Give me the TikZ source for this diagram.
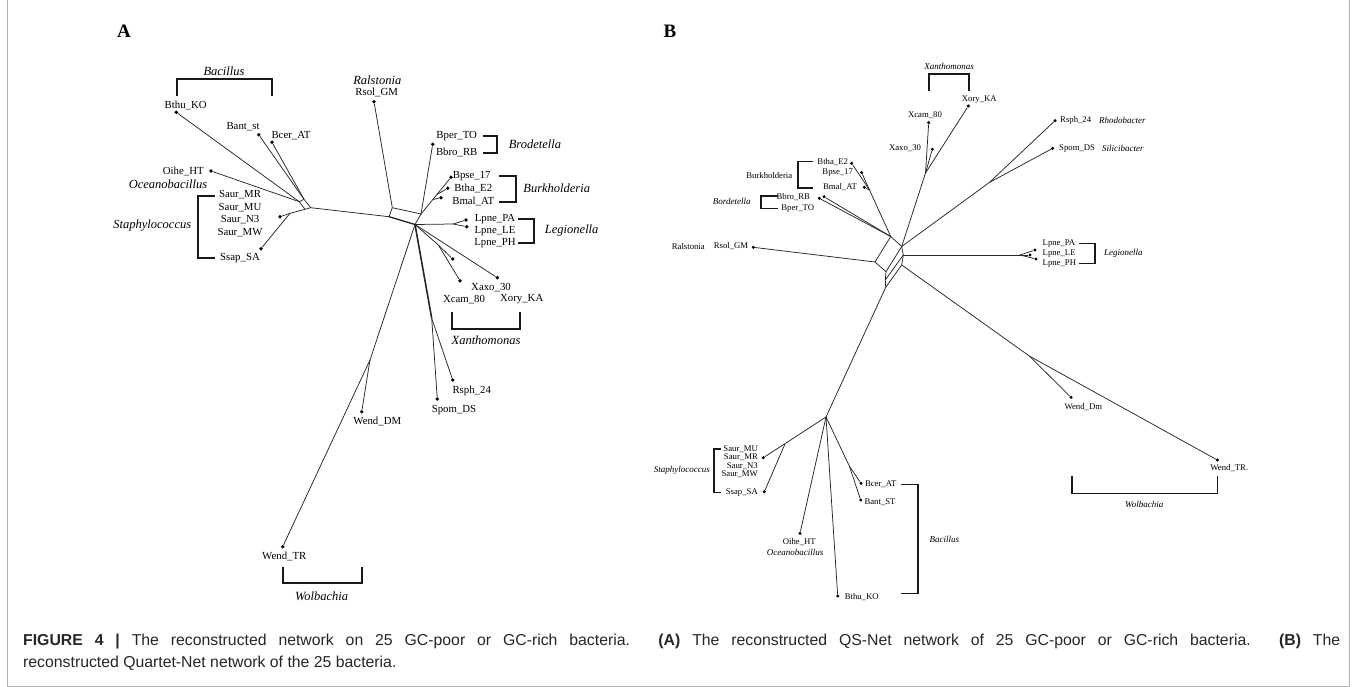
\documentclass[tikz,border=0pt]{standalone}
\usepackage{fontspec}
\setmainfont{Liberation Serif}
\newfontfamily\capfont{Liberation Sans}
\usepackage{tikz}

\tikzset{
  br/.style={line width=0.75pt, black!85},
  brk/.style={line width=1.8pt, black!90},
  leaf/.style={circle, fill=black, inner sep=0pt, minimum size=3.8pt},
  tagA/.style={font=\fontsize{10.8}{12}\selectfont},
  tagB/.style={font=\fontsize{8.7}{10}\selectfont},
  genA/.style={font=\fontsize{12.5}{14}\selectfont\itshape},
  genB/.style={font=\fontsize{9}{11}\selectfont\itshape},
  capline/.style={anchor=base west, font=\capfont\fontsize{15.8}{18}\selectfont, text=black!85}
}

\begin{document}
\begin{tikzpicture}[x=1pt, y=-1pt, inner sep=0pt]
  \useasboundingbox (0,0) rectangle (1356,687);
  \draw[gray!60, line width=0.8pt] (7,0) -- (7,686) -- (1349,686) -- (1349,0);

  \node[font=\fontsize{19}{20}\selectfont\bfseries] (panA) at (124,31) {A};
  \node[font=\fontsize{19}{20}\selectfont\bfseries] (panB) at (670,31) {B};

  % panel A
  \foreach \n/\x/\y in {hA1/299.3/201.7, hA2/304/199.3, hA3/310.7/207.7, hA4/305/209.3,
      sA/290/213.3, pA1/389/216.7, pA2/392.3/207.7, pA3/421/214, pA4/415/224.5,
      kA1/437/194.5, kA2/433/199.5, lA/453.3/224, xkA/438.3/245, rkA/431.7/318.3, wkA/370/360}
    \coordinate (\n) at (\x,\y);
  \foreach \n/\x/\y in {bthuA/176.3/112.3, bantA/258.7/134.7, bcerA/272/142.3, oiheA/211/171,
      saurA/280/216.7, ssapA/261/248.7, rsolA/374/101.7, bbroA/432.7/144.3,
      bpseA/451/177.3, bthaA/447.7/188.3, bmalA/441/197.7, lpA1/466/220, lpA2/466.7/226.7,
      x1A/452.7/259, x2A/460/280.7, xoA/497.3/277.7, rsphA/452.7/380, spomA/437.3/399,
      wdmA/361.7/411.7, wtrA/282.7/546.7}
    \node[leaf] (\n) at (\x,\y) {};
  \foreach \a/\b in {bthuA/hA1, oiheA/hA1, bantA/hA2, bcerA/hA2, hA1/hA2, hA2/hA3, hA3/hA4,
      hA4/hA1, saurA/sA, ssapA/sA, sA/hA4, hA3/pA1, pA1/pA2, pA2/pA3, pA3/pA4,
      rsolA/pA2, bbroA/pA3, pA3/bpseA, kA1/bthaA, kA2/bmalA, pA4/lA, lA/lpA1, lA/lpA2,
      pA4/xoA, pA4/xkA, xkA/x1A, xkA/x2A, rkA/rsphA, rkA/spomA, pA4/wkA, wkA/wtrA, wkA/wdmA}
    \draw[br] (\a) -- (\b);
  \draw[br, line width=1.3pt] (pA4) -- (pA1);
  \draw[br, line width=1.6pt] (pA4) -- (rkA);

  \foreach \n/\x/\y/\t in {tbthuA/185.7/105/Bthu\_KO, tbantA/243/127/Bant\_st,
      tbcerA/291/135.7/Bcer\_AT, toiheA/183.3/171/Oihe\_HT, trsolA/376.7/92.3/Rsol\_GM,
      tbperA/456.7/136/Bper\_TO, tbbroA/456.7/152.7/Bbro\_RB, tbpseA/471.7/175.7/Bpse\_17,
      tbthaA/473.3/188.3/Btha\_E2, tbmalA/473.3/201.7/Bmal\_AT, tlpaA/495/218.7/Lpne\_PA,
      tlleA/495/230.7/Lpne\_LE, tlphA/495/242.7/Lpne\_PH, txaxoA/491/287.7/Xaxo\_30,
      txcamA/464/299.3/Xcam\_80, txoryA/521.7/299.3/Xory\_KA, trsphA/471.7/391/Rsph\_24,
      tspomA/454/410/Spom\_DS, twdmA/377.3/421.7/Wend\_DM, twtrA/284.3/556.7/Wend\_TR}
    \node[tagA] (\n) at (\x,\y) {\t};
  \foreach \n/\y/\t in {tsmrA/194.3/Saur\_MR, tsmuA/207.3/Saur\_MU, tsn3A/220/Saur\_N3,
      tsmwA/232.3/Saur\_MW, tssaA/258/Ssap\_SA}
    \node[tagA] (\n) at (240,\y) {\t};
  \foreach \n/\x/\y/\t in {gbacA/224/71/Bacillus, gralA/377.3/80/Ralstonia,
      goceA/168/184/Oceanobacillus, gstaA/152.3/226/Staphylococcus, gbroA/535/144.3/Brodetella,
      gburA/556.7/188.3/Burkholderia, glegA/571.7/230.7/Legionella,
      gxanA/486/340/Xanthomonas, gwolA/321.7/596/Wolbachia}
    \node[genA] (\n) at (\x,\y) {\t};

  \draw[brk] (176.7,96) -- (176.7,79) -- (272,79) -- (272,96);
  \draw[brk] (215,196) -- (198.3,196) -- (198.3,257.7) -- (215,257.7);
  \draw[brk] (482.7,136) -- (496.7,136) -- (496.7,152.7) -- (482.7,152.7);
  \draw[brk] (499.3,175.7) -- (515.7,175.7) -- (515.7,201.7) -- (499.3,201.7);
  \draw[brk] (518.3,218.7) -- (534.3,218.7) -- (534.3,242.7) -- (518.3,242.7);
  \draw[brk] (451.7,311.7) -- (451.7,329) -- (520,329) -- (520,311.7);
  \draw[brk] (282.7,567.3) -- (282.7,583.3) -- (361.7,583.3) -- (361.7,567.3);

  % panel B
  \foreach \n/\x/\y in {qA/890.7/236.5, qB/901.7/246.5, qD/875/262, qC/886/271.7,
      qE/903.3/255, qF/901.7/265, qH/885.3/280, qG/885.7/287.3, jB/925.5/173,
      kB/989.3/182.5, bkB/869.5/190, lB/1020/255, wkB/1029.3/356, lL/826/417,
      sB/785/444, bcB/849.3/466}
    \coordinate (\n) at (\x,\y);
  \foreach \n/\x/\y in {xoryB/968.3/106, xcamB/928.7/122.7, xaxoB/932.3/149.3,
      rsphB/1055/120.7, spomB/1052.7/148.3, bthaB/851.7/163.3, bpseB/861.7/172.7,
      bmalB/864.3/187.3, bbroB/824/196.7, bperB/819.3/198.3, rsolB/753.3/247.3,
      lpB1/1035/250, lpB2/1030/255, lpB3/1036/259, wdmB/1071/397.3, wtrB/1217.3/460,
      saurB/763.3/457.7, ssapB/764.3/491.7, oiheB/800/533.3, bthuB/837.7/596,
      bcerB/861/483.3, bantB/860.7/500}
    \node[leaf, minimum size=3.4pt] (\n) at (\x,\y) {};
  \foreach \a/\b in {qA/qB, qA/qD, qD/qC, qB/qC, qB/qE, qE/qF, qC/qH, qH/qG, qE/qH, qF/qG,
      jB/xoryB, jB/xcamB, jB/xaxoB, jB/qB, qB/kB, kB/rsphB, kB/spomB, qA/bkB,
      bkB/bthaB, bkB/bpseB, bkB/bmalB, qA/bbroB, qA/bperB, rsolB/qD, qE/lB, lB/lpB1,
      lB/lpB2, lB/lpB3, qF/wkB, wkB/wtrB, wkB/wdmB, qG/lL, lL/saurB, sB/ssapB,
      lL/oiheB, lL/bthuB, lL/bcB, bcB/bcerB, bcB/bantB}
    \draw[br] (\a) -- (\b);

  \foreach \n/\x/\y/\t in {txoryB/979.3/99.3/Xory\_KA, txcamB/925/115/Xcam\_80,
      txaxoB/905/148.3/Xaxo\_30, tbthaB/832.7/162.3/Btha\_E2, tbpseB/837.7/172.3/Bpse\_17,
      tbmalB/840/187.3/Bmal\_AT, tbbroB/793.3/196.7/Bbro\_RB, tbperB/797.7/208.3/Bper\_TO,
      trsolB/731/246/Rsol\_GM, tburB/769.3/175.7/Burkholderia, tralB/688.3/246.7/Ralstonia,
      twdmB/1083.3/407.3/Wend\_Dm, twtrB/1229.3/468.3/Wend\_TR., tbcerB/880.7/484.3/Bcer\_AT,
      tbantB/880/501.7/Bant\_ST, toiheB/799.3/541.7/Oihe\_HT, tbthuB/861.7/596.7/Bthu\_KO}
    \node[tagB] (\n) at (\x,\y) {\t};
  \foreach \n/\y/\t in {tlpaB/243.3/Lpne\_PA, tlleB/253.3/Lpne\_LE, tlphB/263.3/Lpne\_PH}
    \node[tagB, anchor=west] (\n) at (1042.5,\y) {\t};
  \node[tagB, anchor=west] (trsphB) at (1060,120.7) {Rsph\_24};
  \node[tagB, anchor=west] (tspomB) at (1059,148.3) {Spom\_DS};
  \foreach \n/\y/\t in {tsmuB/449/Saur\_MU, tsmrB/457.3/Saur\_MR, tsn3B/466/Saur\_N3,
      tsmwB/474/Saur\_MW, tssaB/492.3/Ssap\_SA}
    \node[tagB, anchor=east] (\n) at (758,\y) {\t};
  \foreach \n/\x/\y/\t in {gxanB/949/66.7/Xanthomonas, gborB/731.7/201.7/Bordetella,
      gwolB/1144.3/504/Wolbachia, gbacB/944.3/539.3/Bacillus, goceB/795/552.7/Oceanobacillus}
    \node[genB] (\n) at (\x,\y) {\t};
  \node[genB, anchor=west] (grhoB) at (1099,120.7) {Rhodobacter};
  \node[genB, anchor=west] (gsilB) at (1102,148.3) {Silicibacter};
  \node[genB, anchor=west] (glegB) at (1104,253.3) {Legionella};
  \node[genB, anchor=east] (gstaB) at (710,470.5) {Staphylococcus};

  \draw[brk, line width=1.6pt] (928.7,90.7) -- (928.7,74) -- (968.7,74) -- (968.7,90.7);
  \draw[brk, line width=1.6pt] (813.3,161.7) -- (797.7,161.7) -- (797.7,188.3) -- (813.3,188.3);
  \draw[brk, line width=1.6pt] (777.7,196) -- (761,196) -- (761,208.3) -- (777.7,208.3);
  \draw[brk, line width=1.6pt] (1079.3,243.3) -- (1095,243.3) -- (1095,263.3) -- (1079.3,263.3);
  \draw[brk, line width=1.6pt] (1071.7,476) -- (1071.7,493.3) -- (1217.3,493.3) -- (1217.3,476);
  \draw[brk, line width=1.6pt] (901,484.3) -- (917.7,484.3) -- (917.7,593.3) -- (901,593.3);
  \draw[brk, line width=1.6pt] (721,449) -- (714,449) -- (714,492.3) -- (721,492.3);

  % caption
  \node[capline] (cap1) at (23,645.5)
    {\makebox[1317pt][s]{\textbf{FIGURE 4 |} The reconstructed network on 25 GC-poor or GC-rich bacteria. \textbf{(A)} The reconstructed QS-Net network of 25 GC-poor or GC-rich bacteria. \textbf{(B)} The}};
  \node[capline] (cap2) at (23,667.5) {reconstructed Quartet-Net network of the 25 bacteria.};
\end{tikzpicture}
\end{document}
